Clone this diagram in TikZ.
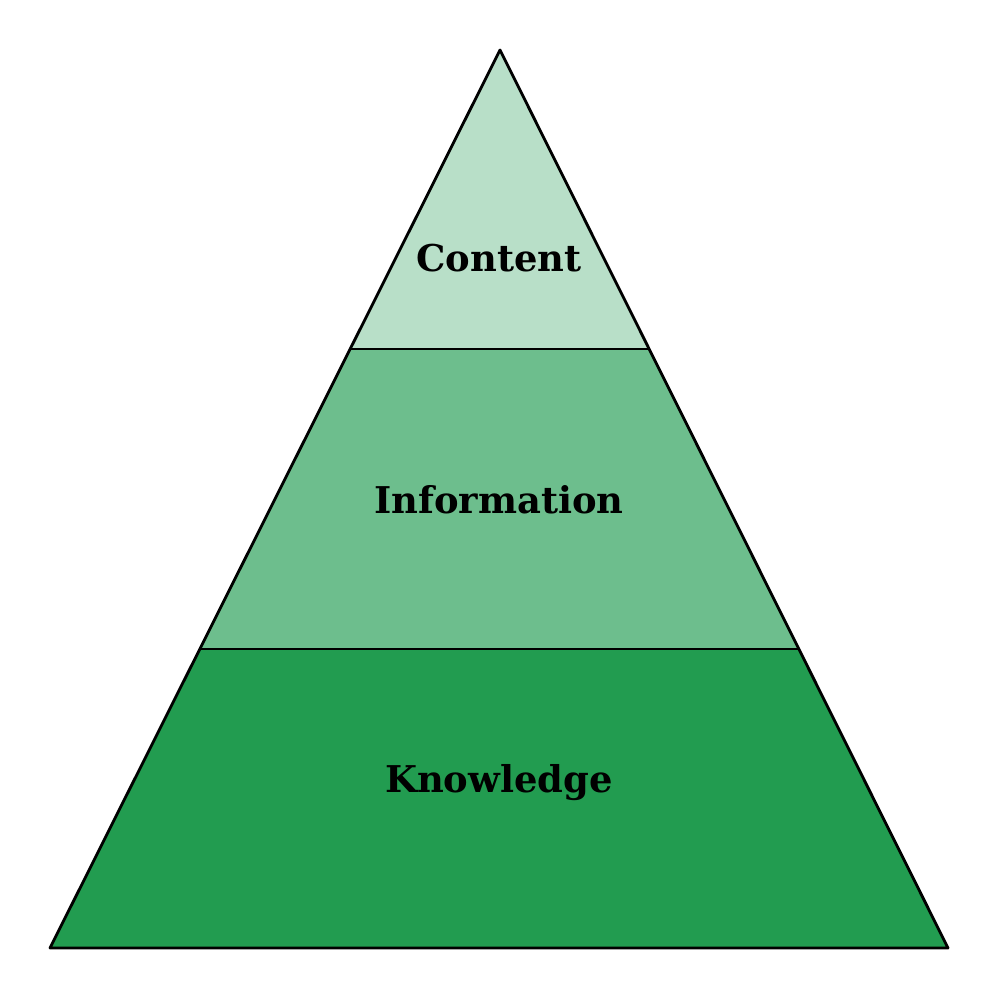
\documentclass[tikz,border=0pt]{standalone}
\usepackage{fontspec}
\setmainfont{DejaVu Serif}
\definecolor{ctop}{HTML}{B8DFC8}
\definecolor{cmid}{HTML}{6DBE8D}
\definecolor{cbot}{HTML}{229C50}
\begin{document}
\begin{tikzpicture}[x=0.02cm,y=-0.02cm,
  layer/.style={draw=black,line width=1.6pt,line join=round},
  lbl/.style={font=\fontsize{21}{25}\selectfont\bfseries,text=black}]
\useasboundingbox (0,0) rectangle (1000,1000);
\coordinate (apex) at (500,50);
\coordinate (l1) at (350,349); \coordinate (r1) at (649,349);
\coordinate (l2) at (200,649); \coordinate (r2) at (798,649);
\coordinate (l3) at (50,948); \coordinate (r3) at (948,948);
\fill[cbot] (l2) -- (r2) -- (r3) -- (l3) -- cycle;
\fill[cmid] (l1) -- (r1) -- (r2) -- (l2) -- cycle;
\fill[ctop] (apex) -- (r1) -- (l1) -- cycle;
\draw[layer] (apex) -- (r3) -- (l3) -- cycle;
\draw[layer] (l1) -- (r1);
\draw[layer] (l2) -- (r2);
\node[lbl] (content) at (499,258) {Content};
\node[lbl] (info) at (499,500) {Information};
\node[lbl] (know) at (499,783) {Knowledge};
\end{tikzpicture}
\end{document}
